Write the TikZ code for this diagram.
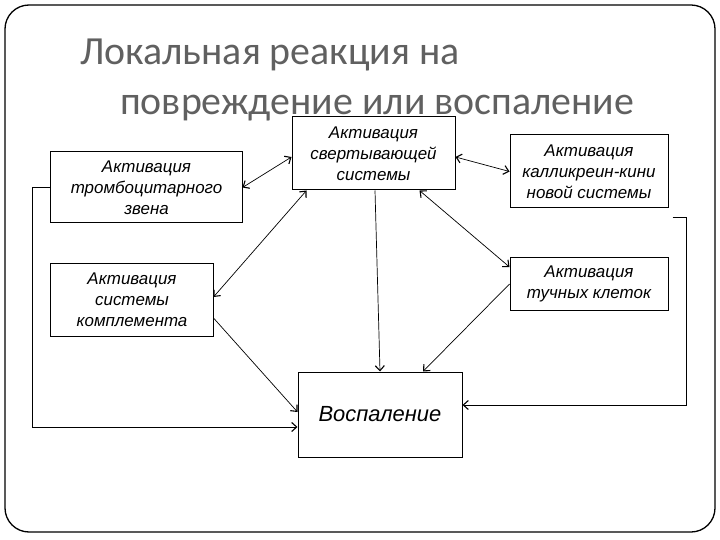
\documentclass[tikz,border=0pt]{standalone}
\usepackage{fontspec}
\setmainfont{Liberation Sans}
\newfontfamily\titlefont{Carlito}
\usetikzlibrary{arrows.meta}
\definecolor{titlegray}{RGB}{96,96,96}

\begin{document}
\begin{tikzpicture}[x=1bp, y=-1bp,
    box/.style={draw, line width=1bp, inner sep=0pt, align=center,
      font=\fontsize{17}{21}\selectfont\itshape},
    heading/.style={anchor=base west, inner sep=0pt, text=titlegray,
      font=\titlefont\fontsize{40}{44}\selectfont},
    link/.style={line width=0.7bp},
    >={Straight Barb[length=5bp,width=9bp,line width=1.1bp]}]
  \useasboundingbox (0,0) rectangle (720,540);
  \draw [line width=1.3bp, rounded corners=24bp] (5,5) rectangle (715,532);
  \node [heading] (title1) at (80,65) {Локальная реакция на};
  \node [heading] (title2) at (120,115) {повреждение или воспаление};
  % blocks
  \node [box, minimum width=163bp, minimum height=73bp] (svert) at (373.5,153.5) {Активация\\свертывающей\\системы};
  \node [box, minimum width=191bp, minimum height=71bp] (tromb) at (146.5,187.5) {Активация\\тромбоцитарного\\звена};
  \node [box, minimum width=162bp, minimum height=72bp] (compl) at (132,300) {Активация\\системы\\комплемента};
  \node [box, minimum width=158bp, minimum height=73bp] (kalli) at (589,171.5) {Активация\\калликреин-кини\\новой системы};
  \node [box, minimum width=158bp, minimum height=52bp] (mast) at (589,284) {Активация\\тучных клеток};
  \node [box, minimum width=164bp, minimum height=85bp, font=\fontsize{22}{26}\selectfont\itshape] (vosp) at (380,414.5) {Воспаление};
  \coordinate (kstub) at ([shift={(4bp,-9bp)}]kalli.south east);
  % links
  \draw [link, <->] (tromb.east) -- ([yshift=-3.5bp]svert.west);
  \draw [link, <->] ([xshift=15bp]svert.south west) -- ([yshift=3bp]compl.east);
  \draw [link, <->] ([yshift=-3.5bp]svert.east) -- (kalli.west);
  \draw [link, <->] ([xshift=-36bp]svert.south east) -- ([yshift=17bp]mast.west);
  \draw [link, ->] ([xshift=1.5bp]svert.south) -- (vosp.north);
  \draw [link, ->] (mast.west) -- ([xshift=43bp]vosp.north);
  \draw [link, ->] ([yshift=-18bp]compl.east) -- ([yshift=2.5bp]vosp.west);
  \draw [link, ->] (tromb.west) -- ++(-18bp,0) |- ([yshift=-12.5bp]vosp.west);
  \draw [link, ->] (kstub) -- ++(14bp,0) |- ([yshift=9.5bp]vosp.east);
\end{tikzpicture}
\end{document}
